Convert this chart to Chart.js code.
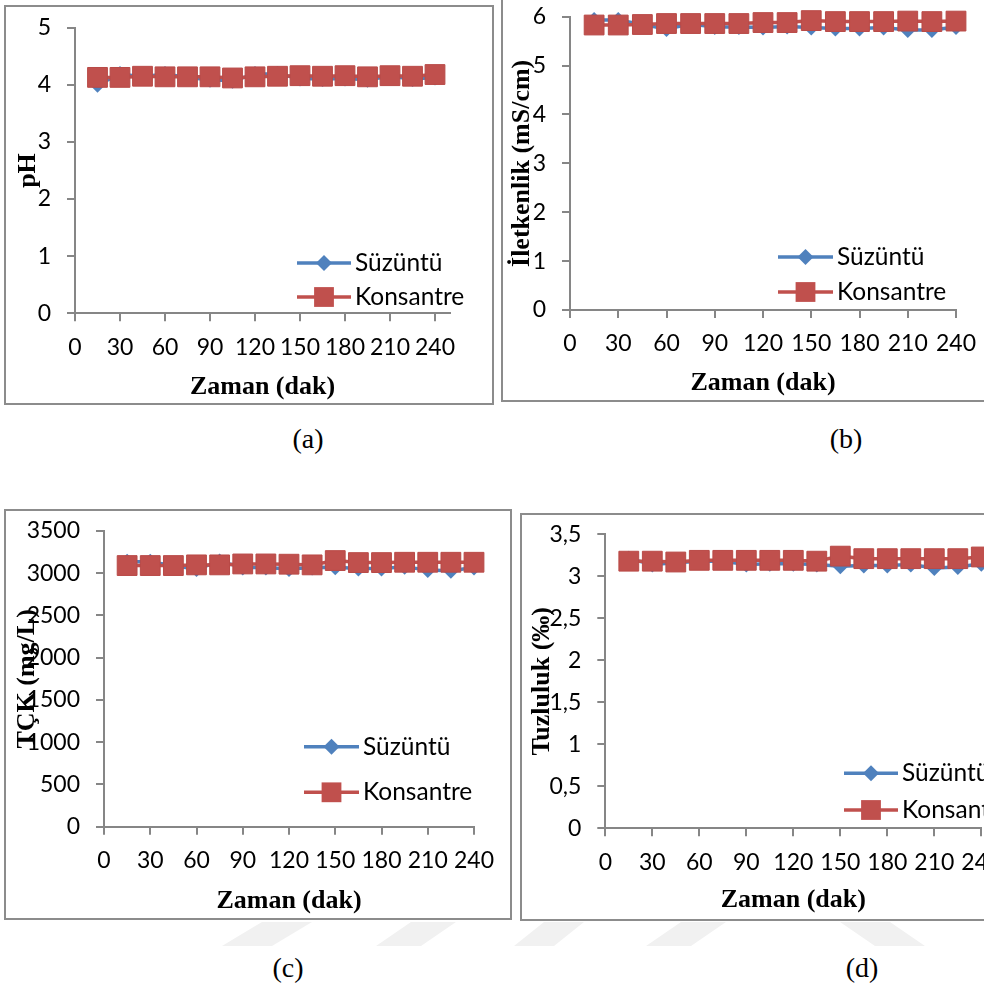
<!DOCTYPE html>
<html>
<head>
<meta charset="utf-8">
<script src="https://cdn.jsdelivr.net/npm/chart.js@4.4.1/dist/chart.umd.min.js"></script>
<style>
  body { margin: 0; background: #fff; }
  #page { position: relative; width: 984px; height: 988px; overflow: hidden; background: #fff; }
  .box { position: absolute; border: 2px solid #8c8c8c; box-sizing: border-box; background: #fff; }
  .box canvas { position: absolute; left: 0; top: 0; }
  .cap { position: absolute; font: 28px "Liberation Serif", "Times New Roman", serif; color: #000;
         transform: translate(-50%, -50%); white-space: nowrap; }
  .mark { position: absolute; top: 922px; height: 24px; width: 90px; background: #f1f1f1; }
</style>
</head>
<body>
<div id="page">
  <!-- faint page watermark below the lower frames -->
  <div class="mark" style="left:222px;clip-path:polygon(40px 0,90px 0,50px 24px,0 24px)"></div>
  <div class="mark" style="left:376px;clip-path:polygon(35px 0,80px 0,45px 24px,0 24px)"></div>
  <div class="mark" style="left:514px;clip-path:polygon(30px 0,70px 0,40px 24px,0 24px)"></div>
  <div class="mark" style="left:646px;clip-path:polygon(35px 0,80px 0,45px 24px,0 24px)"></div>
  <div class="mark" style="left:840px;clip-path:polygon(0 0,50px 0,85px 24px,35px 24px)"></div>
</div>
<script>
// sampling times (dak)
const minutes = [15, 30, 45, 60, 75, 90, 105, 120, 135, 150, 165, 180, 195, 210, 225, 240];
const seriesNames = ["Süzüntü", "Konsantre"];
const xAxisTitle = "Zaman (dak)";

// (a) pH
const phSuzuntu   = [4.00, 4.19, 4.14, 4.19, 4.13, 4.09, 4.07, 4.19, 4.19, 4.11, 4.10, 4.11, 4.09, 4.15, 4.10, 4.13];
const phKonsantre = [4.13, 4.13, 4.15, 4.14, 4.14, 4.14, 4.12, 4.14, 4.15, 4.16, 4.15, 4.16, 4.14, 4.16, 4.15, 4.18];
// (b) iletkenlik, mS/cm
const ecSuzuntu   = [5.93, 5.93, 5.84, 5.75, 5.85, 5.79, 5.79, 5.78, 5.80, 5.78, 5.76, 5.76, 5.78, 5.73, 5.73, 5.79];
const ecKonsantre = [5.83, 5.83, 5.84, 5.86, 5.86, 5.86, 5.86, 5.88, 5.88, 5.92, 5.90, 5.90, 5.90, 5.91, 5.90, 5.91];
// (c) TÇK, mg/L
const tdsSuzuntu   = [3136, 3136, 3090, 3049, 3140, 3069, 3069, 3050, 3069, 3070, 3057, 3057, 3077, 3037, 3030, 3069];
const tdsKonsantre = [3091, 3091, 3091, 3099, 3099, 3110, 3110, 3107, 3099, 3150, 3126, 3126, 3130, 3130, 3130, 3130];
// (d) tuzluluk, ‰
const salSuzuntu   = [3.21, 3.14, 3.16, 3.18, 3.18, 3.14, 3.15, 3.15, 3.14, 3.12, 3.13, 3.13, 3.14, 3.10, 3.11, 3.15];
const salKonsantre = [3.18, 3.18, 3.17, 3.19, 3.19, 3.19, 3.19, 3.19, 3.18, 3.24, 3.21, 3.21, 3.21, 3.21, 3.21, 3.23];

const panels = [
  { cap: "(a)", yTitle: "pH", s: phSuzuntu, k: phKonsantre, xMax: 250, yMax: 5, yStep: 1 },
  { cap: "(b)", yTitle: "İletkenlik (mS/cm)", s: ecSuzuntu, k: ecKonsantre, xMax: 240, yMax: 6, yStep: 1 },
  { cap: "(c)", yTitle: "TÇK (mg/L)", s: tdsSuzuntu, k: tdsKonsantre, xMax: 240, yMax: 3500, yStep: 500 },
  { cap: "(d)", yTitle: "Tuzluluk (‰)", s: salSuzuntu, k: salKonsantre, xMax: 240, yMax: 3.5, yStep: 0.5 }
];

// page geometry of each panel: frame box, plot area, legend, titles, caption
const frames = [
  { box: [4, 5, 494, 405], plot: [75, 27.7, 450, 313.3], leg: [297, 351, 263, 297, 355], xTitleY: 387, yTitleX: 28, capXY: [308, 439] },
  { box: [501, -10, 1000, 402], plot: [570, 16.7, 956, 310], leg: [778, 833, 257, 292, 837], xTitleY: 383, yTitleX: 522, capXY: [846, 439] },
  { box: [4, 509, 512, 920], plot: [104, 531, 474, 826.7], leg: [304, 359, 746.7, 792.3, 363], xTitleY: 901.7, yTitleX: 27, capXY: [288, 968] },
  { box: [520, 513, 1020, 921], plot: [605.3, 534.3, 981.3, 828.3], leg: [844, 898, 773.3, 810, 902], xTitleY: 900, yTitleX: 542, capXY: [862, 968] }
];

const BLUE = "#4f81bd";
const RED = "#c0504d";
const AXIS = "#868686";
const SANS = "Lato, 'Open Sans', sans-serif";
const SERIF = "'Liberation Serif', 'Times New Roman', serif";

// Excel style legend drawn inside the plot area: line + marker + label
const insideLegend = {
  id: "insideLegend",
  afterDraw(chart, args, opts) {
    const ctx = chart.ctx;
    chart.data.datasets.forEach((ds, i) => {
      const y = opts.rows[i];
      const cx = (opts.x0 + opts.x1) / 2;
      const r = ds.pointRadius;
      ctx.save();
      ctx.strokeStyle = ds.borderColor;
      ctx.lineWidth = ds.borderWidth;
      ctx.beginPath();
      ctx.moveTo(opts.x0, y);
      ctx.lineTo(opts.x1, y);
      ctx.stroke();
      ctx.fillStyle = ds.pointBackgroundColor;
      ctx.beginPath();
      if (ds.pointStyle === "rect") {
        const h = r * Math.SQRT1_2;
        ctx.rect(cx - h, y - h, 2 * h, 2 * h);
      } else {
        ctx.moveTo(cx, y - r);
        ctx.lineTo(cx + r, y);
        ctx.lineTo(cx, y + r);
        ctx.lineTo(cx - r, y);
        ctx.closePath();
      }
      ctx.fill();
      ctx.fillStyle = "#000";
      ctx.font = "24.5px " + SANS;
      ctx.textBaseline = "middle";
      ctx.textAlign = "left";
      ctx.fillText(ds.label, opts.tx, y);
      ctx.restore();
    });
  }
};

function makePanel(p, g) {
  const page = document.getElementById("page");
  const w = g.box[2] - g.box[0], h = g.box[3] - g.box[1];
  const box = document.createElement("div");
  box.className = "box";
  box.style.left = g.box[0] + "px";
  box.style.top = g.box[1] + "px";
  box.style.width = w + "px";
  box.style.height = h + "px";
  const cw = w - 4, ch = h - 4, ox = g.box[0] + 2, oy = g.box[1] + 2;
  const canvas = document.createElement("canvas");
  canvas.width = cw;
  canvas.height = ch;
  canvas.style.width = cw + "px";
  canvas.style.height = ch + "px";
  box.appendChild(canvas);
  page.appendChild(box);

  const cap = document.createElement("div");
  cap.className = "cap";
  cap.textContent = p.cap;
  cap.style.left = g.capXY[0] + "px";
  cap.style.top = g.capXY[1] + "px";
  page.appendChild(cap);

  const plotL = g.plot[0] - ox, plotT = g.plot[1] - oy, plotR = g.plot[2] - ox, plotB = g.plot[3] - oy;
  const titleHalf = 26 * 1.2 / 2;

  new Chart(canvas, {
    type: "line",
    data: {
      datasets: [
        {
          label: seriesNames[0],
          data: minutes.map((m, i) => ({ x: m, y: p.s[i] })),
          borderColor: BLUE, backgroundColor: BLUE, borderWidth: 3.5,
          pointStyle: "rectRot", pointRadius: 8, pointBackgroundColor: BLUE,
          pointBorderColor: BLUE, pointBorderWidth: 0, order: 1, clip: false
        },
        {
          label: seriesNames[1],
          data: minutes.map((m, i) => ({ x: m, y: p.k[i] })),
          borderColor: RED, backgroundColor: RED, borderWidth: 3.5,
          pointStyle: "rect", pointRadius: 14, pointBackgroundColor: RED,
          pointBorderColor: "#b94a47", pointBorderWidth: 1, order: 0, clip: false
        }
      ]
    },
    options: {
      responsive: false,
      animation: false,
      events: [],
      layout: { autoPadding: false, padding: { left: 0, top: plotT, right: cw - plotR, bottom: 0 } },
      plugins: {
        legend: { display: false },
        tooltip: { enabled: false },
        insideLegend: {
          x0: g.leg[0] - ox, x1: g.leg[1] - ox,
          rows: [g.leg[2] - oy, g.leg[3] - oy], tx: g.leg[4] - ox
        }
      },
      scales: {
        x: {
          type: "linear", min: 0, max: p.xMax,
          ticks: { stepSize: 30, includeBounds: false, autoSkip: false, maxRotation: 0,
                   color: "#000", font: { family: SANS, size: 23 }, padding: 12 },
          grid: { drawOnChartArea: false, drawTicks: true, tickLength: 8, color: AXIS, lineWidth: 2 },
          border: { color: AXIS, width: 2 },
          title: { display: true, text: xAxisTitle, color: "#000",
                   font: { family: SERIF, size: 26, weight: "bold" },
                   padding: { top: 0, bottom: Math.max(0, ch - (g.xTitleY - oy) - titleHalf) } },
          afterFit: s => {
            s.height = ch - plotB;
            s.paddingLeft = 0;
            s.paddingRight = 0;
          }
        },
        y: {
          min: 0, max: p.yMax,
          ticks: { stepSize: p.yStep, color: "#000", font: { family: SANS, size: 23 }, padding: 16,
                   callback: v => String(v).replace(".", ",") },
          grid: { drawOnChartArea: false, drawTicks: true, tickLength: 8, color: AXIS, lineWidth: 2 },
          border: { color: AXIS, width: 2 },
          title: { display: true, text: p.yTitle, color: "#000",
                   font: { family: SERIF, size: 26, weight: "bold" },
                   padding: { top: Math.max(0, g.yTitleX - ox - titleHalf), bottom: 0 } },
          afterFit: s => {
            s.width = plotL;
            s.paddingTop = 0;
            s.paddingBottom = 0;
          }
        }
      }
    },
    plugins: [insideLegend]
  });
}

document.fonts.load("23px Lato").then(() => {
  panels.forEach((p, i) => makePanel(p, frames[i]));
});
</script>
</body>
</html>
